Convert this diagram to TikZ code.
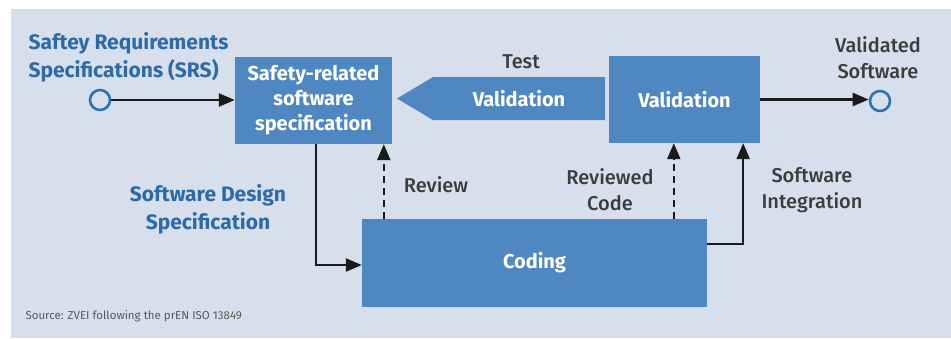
\documentclass[tikz,border=0pt]{standalone}
\usepackage{fontspec}
\setmainfont{Fira Sans}
\newfontfamily\medfont{Fira Sans Medium}
\usetikzlibrary{arrows.meta,calc}
\definecolor{panel}{HTML}{D7DFEC}
\definecolor{boxfill}{HTML}{4F87C2}
\definecolor{bluetext}{HTML}{2C6BA6}
\definecolor{darktext}{HTML}{3C3C3C}
\definecolor{ringblue}{HTML}{2E74B5}
\definecolor{linecol}{HTML}{1A1A1A}
\tikzset{
  procbox/.style={rectangle, fill=boxfill, text=white, font=\bfseries\fontsize{20}{25}\selectfont, align=center, inner sep=0pt},
  port/.style={circle, draw=ringblue, line width=2.6pt, fill=panel, minimum size=20pt, inner sep=0pt},
  arr/.style={draw=linecol, line width=2.4pt, -{Triangle[length=16pt,width=13pt]}},
  dasharr/.style={arr, dash pattern=on 7pt off 5pt},
  note/.style={text=darktext, font=\medfont\fontsize{20}{26}\selectfont, align=center},
  bluenote/.style={text=bluetext, font=\bfseries\fontsize{21}{28}\selectfont},
}
\begin{document}
\begin{tikzpicture}[x=1pt,y=-1pt]
  \useasboundingbox (0,0) rectangle (951,338);
  \fill[white] (0,0) rectangle (951,338);
  \fill[panel] (11,9) rectangle (951,338);

  % process boxes
  \node[procbox, minimum width=157pt, minimum height=87pt] (spec) at (313.5,100.5)
    {Safety-related\\software\\specification};
  \node[procbox, minimum width=151pt, minimum height=87pt] (valid) at (684.5,99.5) {Validation};
  \node[procbox, minimum width=345pt, minimum height=88pt] (coding) at (534.5,263) {Coding};

  % test arrow pointing back to the specification
  \fill[boxfill] (397,98.5) -- (433,77) -- (605,77) -- (605,120) -- (433,120) -- cycle;
  \node[procbox, fill=none] (testval) at (519,98.5) {Validation};
  \node[note] (testlbl) at (521,62) {Test};

  % input and output ports
  \node[port] (srs) at (100,100) {};
  \node[port] (done) at (880,101) {};
  \node[bluenote, align=left, anchor=west] (srslbl) at (25,57.5)
    {Saftey Requirements\\Specifications (SRS)};
  \node[note] (donelbl) at (878,58) {Validated\\Software};

  \draw[arr] (srs.east) -- (srs.east -| spec.west);
  \draw[arr] (valid.east) -- (valid.east -| done.west);

  % design flow and feedback
  \draw[arr] ([xshift=81pt]spec.south west) |- ([yshift=-2pt]coding.west);
  \draw[dasharr] ([xshift=22pt]coding.north west) -- ([xshift=22pt]coding.north west |- spec.south);
  \draw[dasharr] ([xshift=65pt]valid.south west |- coding.north) -- ([xshift=65pt]valid.south west);
  \draw[arr] ([yshift=19pt]coding.east) -| ([xshift=-17pt]valid.south east);

  \node[bluenote, align=center] (sdslbl) at (208,209.5) {Software Design\\Specification};
  \node[note] (revlbl) at (436,185) {Review};
  \node[note] (rclbl) at (610,190) {Reviewed\\Code};
  \node[note] (intlbl) at (812,190) {Software\\Integration};

  \node[anchor=west, text=darktext!85, font=\fontsize{11.5}{13}\selectfont] (src) at (22,316)
    {Source: ZVEI following the prEN ISO 13849};
\end{tikzpicture}
\end{document}
